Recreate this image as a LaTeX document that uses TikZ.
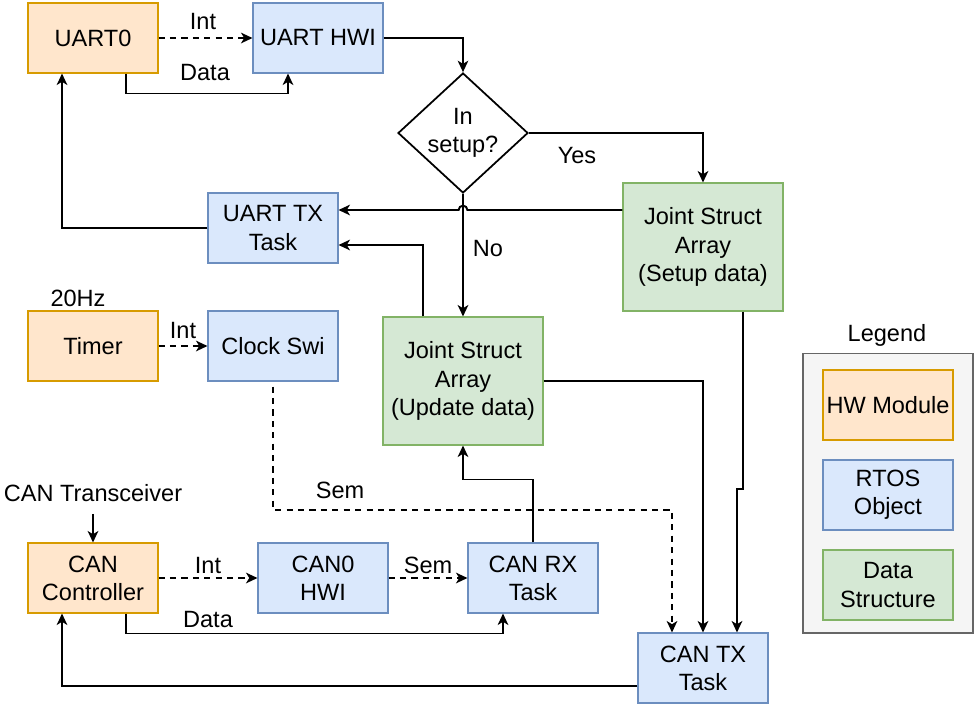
\documentclass[tikz,border=0pt]{standalone}
\usepackage{fontspec}
\setmainfont{Liberation Sans}
\usetikzlibrary{arrows.meta}
\usetikzlibrary{shapes.geometric}

\definecolor{hwFill}{HTML}{FFE6CC}
\definecolor{hwLine}{HTML}{D79B00}
\definecolor{rtosFill}{HTML}{DAE8FC}
\definecolor{rtosLine}{HTML}{6C8EBF}
\definecolor{dataFill}{HTML}{D5E8D4}
\definecolor{dataLine}{HTML}{82B366}
\definecolor{legendFill}{HTML}{F5F5F5}
\definecolor{legendLine}{HTML}{666666}

\begin{document}
\begin{tikzpicture}[x=0.02cm,y=-0.02cm,
        font=\fontsize{13.4}{16}\selectfont,
        box/.style = {line width=0.6pt,minimum width=2.6cm,minimum height=1.4cm,align=center,inner sep=1pt},
        hwNode/.style = {box,fill=hwFill,draw=hwLine},
        rtosNode/.style = {box,fill=rtosFill,draw=rtosLine},
        dataNode/.style = {box,fill=dataFill,draw=dataLine,minimum width=3.2cm,minimum height=2.56cm},
        decisionNode/.style = {shape=diamond,draw=black,line width=1pt,minimum width=2.6cm,minimum height=2.4cm,inner sep=0pt,align=center},
        legendNode/.style = {fill=legendFill,draw=legendLine,line width=0.6pt,minimum width=3.4cm,minimum height=5.6cm},
        labelNode/.style = {inner sep=1pt},
        flow/.style = {draw,line width=1.1pt,-{Stealth[length=6.5pt,width=6pt,inset=1.8pt]}},
        signal/.style = {flow,dash pattern=on 3.5pt off 3pt} % interrupt / semaphore
        ]
    \useasboundingbox (0,0) rectangle (978,708);

    % uart side
    \node[hwNode] (uartZero) at (93,38) {UART0};
    \node[rtosNode] (uartHwi) at (318,38) {UART HWI};
    \node[decisionNode] (inSetup) at (463,133) {In\\setup?};
    \node[rtosNode] (uartTx) at (273,228) {UART TX\\Task};
    \node[dataNode] (setupArray) at (703,247) {Joint Struct\\Array\\(Setup data)};

    % timer
    \node[hwNode] (timer) at (93,346) {Timer};
    \node[rtosNode] (clockSwi) at (273,346) {Clock Swi};
    \node[dataNode] (updateArray) at (463,381) {Joint Struct\\Array\\(Update data)};

    % can side
    \node[hwNode] (canCtrl) at (93,578) {CAN\\Controller};
    \node[rtosNode] (canHwi) at (323,578) {CAN0\\HWI};
    \node[rtosNode] (canRx) at (533,578) {CAN RX\\Task};
    \node[rtosNode] (canTx) at (703,668) {CAN TX\\Task};

    % legend
    \node[legendNode] (legendBox) at (888,493) {};
    \node[labelNode] (legendTitle) at (887,335) {Legend};
    \node[hwNode] (legendHw) at (888,405) {HW Module};
    \node[rtosNode] (legendRtos) at (888,495) {RTOS\\Object};
    \node[box,fill=dataFill,draw=dataLine] (legendData) at (888,585) {Data\\Structure};

    % labels
    \node[labelNode] (intUart) at (203,21) {Int};
    \node[labelNode] (dataUart) at (205,73) {Data};
    \node[labelNode] (yesLbl) at (577,156) {Yes};
    \node[labelNode] (noLbl) at (488,249) {No};
    \node[labelNode] (rateLbl) at (78,298) {20Hz};
    \node[labelNode] (intTimer) at (183,330) {Int};
    \node[labelNode] (semClock) at (340,490) {Sem};
    \node[labelNode] (canTrans) at (93,493) {CAN Transceiver};
    \node[labelNode] (intCan) at (208,565) {Int};
    \node[labelNode] (semCan) at (428,565) {Sem};
    \node[labelNode] (dataCan) at (208,620) {Data};

    \coordinate (hopRight) at (467.4,210);
    \coordinate (semBend) at (273,510);
    \coordinate (setupJog) at (737,489);

    \draw[signal] (uartZero.east) -- (uartHwi.west);
    \draw[flow] ([xshift=0.66cm]uartZero.south) -- ++(0,20) -| ([xshift=-0.6cm]uartHwi.south);
    \draw[flow] (uartHwi.east) -| (inSetup.north);
    \draw[flow] (inSetup.east) -| (setupArray.north);
    \draw[flow] (inSetup.south) -- (updateArray.north);
    \draw[flow] ([yshift=0.74cm]setupArray.west) -- (hopRight) arc[start angle=0,end angle=180,radius=2.5pt] -- ([yshift=0.36cm]uartTx.east);
    \draw[flow] ([xshift=-0.8cm]updateArray.north) |- ([yshift=-0.34cm]uartTx.east);
    \draw[flow] (uartTx.west) -| ([xshift=-0.62cm]uartZero.south);
    \draw[signal] (timer.east) -- (clockSwi.west);
    \draw[signal] ([yshift=-0.1cm]clockSwi.south) -- (semBend) -| ([xshift=-0.62cm]canTx.north);
    \draw[flow] (updateArray.east) -| (canTx.north);
    \draw[flow] ([xshift=0.8cm]setupArray.south) |- (setupJog) -| ([xshift=0.68cm]canTx.north);
    \draw[flow] (canRx.north) -- ++(0,-63) -| (updateArray.south);
    \draw[flow] ([yshift=-0.2cm]canTrans.south) -- (canCtrl.north);
    \draw[signal] (canCtrl.east) -- (canHwi.west);
    \draw[signal] (canHwi.east) -- (canRx.west);
    \draw[flow] ([xshift=0.66cm]canCtrl.south) -- ++(0,20) -| ([xshift=-0.6cm]canRx.south);
    \draw[flow] ([yshift=-0.36cm]canTx.west) -| ([xshift=-0.62cm]canCtrl.south);
\end{tikzpicture}
\end{document}
